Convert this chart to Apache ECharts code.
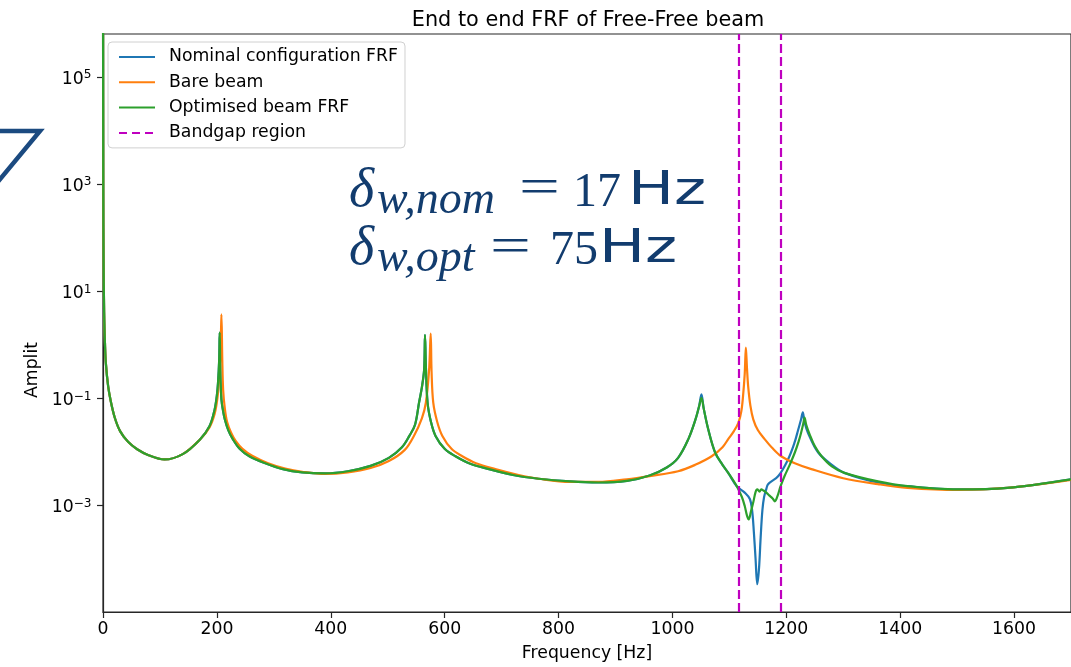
<!DOCTYPE html>
<html><head><meta charset="utf-8">
<script src="https://cdn.jsdelivr.net/npm/echarts@6/dist/echarts.min.js"></script>
<style>html,body{margin:0;padding:0;background:#fff}#c{width:1071px;height:667px}</style>
</head><body><div id="c"></div>
<script>
// ---- data (frequency [Hz], amplitude) ----
const seriesNames = ['Nominal configuration FRF', 'Bare beam', 'Optimised beam FRF', 'Bandgap region'];
const nominalFRF = [[0,1e7],[0.5,794],[1,39.8],[2,3.98],[3.5,1.0],[5,0.447],[9,0.166],[14,0.0832],[21,0.0417],[30,0.0240],[44,0.0151],[60,0.0110],[80,0.00851],[108,0.00708],[140,0.00891],[170,0.0166],[187,0.0295],[196,0.0603],[200,0.112],[202,0.191],[204,0.501],[205,1.66],[206,0.316],[208,0.0933],[211,0.0562],[214,0.0398],[220,0.0251],[228,0.0170],[240,0.0112],[257,0.00813],[285,0.00603],[316,0.00468],[350,0.00407],[390,0.00389],[430,0.00427],[470,0.00537],[502,0.00759],[525,0.0120],[538,0.0195],[548,0.0316],[555,0.0813],[560,0.158],[564,0.339],[565.5,1.51],[567,0.398],[570,0.0813],[576,0.0355],[584,0.0195],[600,0.0112],[619,0.00813],[645,0.00589],[678,0.00468],[720,0.00363],[765,0.00309],[820,0.00275],[870,0.00263],[920,0.00282],[960,0.00355],[990,0.00501],[1010,0.00759],[1028,0.0170],[1040,0.0380],[1047,0.0708],[1051,0.117],[1055,0.0631],[1063,0.0257],[1075,0.00955],[1088,0.00562],[1098,0.00398],[1113,0.00224],[1127,0.00170],[1136,0.00129],[1140,0.000794],[1143,0.000316],[1146,0.0001],[1149,0.0000331],[1152,0.0000631],[1155,0.000251],[1158,0.000794],[1161,0.00141],[1165,0.00200],[1168,0.00245],[1186,0.00347],[1203,0.00708],[1214,0.0141],[1221,0.0257],[1226,0.0398],[1229,0.0537],[1232,0.0355],[1238,0.0224],[1256,0.00955],[1280,0.00562],[1302,0.00398],[1361,0.00263],[1413,0.00224],[1501,0.00195],[1588,0.00209],[1700,0.00302]];
const bareFRF = [[0,1e7],[0.5,794],[1,39.8],[2,3.98],[3.5,1.0],[5,0.447],[9,0.166],[14,0.0832],[21,0.0417],[30,0.0240],[44,0.0151],[60,0.0110],[80,0.00851],[108,0.00708],[140,0.00891],[170,0.0166],[187,0.0282],[196,0.0501],[201,0.100],[204,0.251],[206.5,0.794],[208,3.63],[209.5,0.501],[211,0.141],[214,0.0631],[218,0.0355],[225,0.0224],[233,0.0158],[245,0.0112],[262,0.00832],[290,0.00603],[320,0.00479],[350,0.00417],[390,0.00380],[430,0.00407],[470,0.00490],[502,0.00661],[530,0.0107],[546,0.0195],[560,0.0417],[567,0.0813],[572.7,0.339],[575.5,1.585],[577,0.316],[580,0.0813],[587,0.0355],[596,0.0195],[612,0.0112],[631,0.00813],[655,0.00603],[689,0.00468],[730,0.00363],[765,0.00309],[820,0.00269],[870,0.00269],[920,0.00302],[960,0.00347],[1010,0.00427],[1040,0.00562],[1069,0.00813],[1088,0.0120],[1098,0.0170],[1108,0.0240],[1116,0.0347],[1121,0.0562],[1124,0.107],[1127,0.282],[1129,0.871],[1131,0.355],[1133,0.166],[1137,0.0708],[1142,0.0398],[1150,0.0251],[1162,0.0170],[1175,0.0117],[1191,0.00813],[1215,0.00603],[1244,0.00468],[1300,0.00316],[1361,0.00245],[1413,0.00209],[1501,0.00191],[1588,0.00209],[1700,0.00295]];
const optimisedFRF = [[0,1e7],[0.5,794],[1,39.8],[2,3.98],[3.5,1.0],[5,0.447],[9,0.166],[14,0.0832],[21,0.0417],[30,0.0240],[44,0.0151],[60,0.0110],[80,0.00851],[108,0.00708],[140,0.00891],[170,0.0166],[187,0.0295],[196,0.0603],[200,0.112],[202,0.191],[204,0.501],[205,1.66],[206,0.316],[208,0.0933],[211,0.0562],[214,0.0398],[220,0.0251],[228,0.0170],[240,0.0112],[257,0.00813],[285,0.00603],[316,0.00468],[350,0.00407],[390,0.00389],[430,0.00427],[470,0.00537],[502,0.00759],[525,0.0120],[538,0.0195],[548,0.0316],[555,0.0813],[560,0.158],[564,0.339],[565.5,1.51],[567,0.398],[570,0.0813],[576,0.0355],[584,0.0195],[600,0.0112],[619,0.00813],[645,0.00589],[678,0.00468],[720,0.00363],[765,0.00309],[820,0.00275],[870,0.00263],[920,0.00282],[960,0.00355],[990,0.00501],[1010,0.00759],[1028,0.0170],[1040,0.0380],[1047,0.0708],[1051,0.100],[1055,0.0631],[1063,0.0257],[1075,0.00955],[1088,0.00562],[1098,0.00398],[1113,0.00224],[1122,0.00141],[1127,0.000955],[1131,0.000631],[1134,0.000537],[1138,0.000759],[1142,0.00112],[1146,0.00174],[1149,0.00195],[1153,0.00178],[1156,0.00195],[1160,0.00186],[1165,0.00170],[1170,0.00151],[1176,0.00132],[1180,0.00117],[1184,0.00141],[1190,0.00224],[1197,0.00347],[1206,0.00562],[1215,0.00955],[1222,0.0158],[1226,0.0224],[1230,0.0339],[1232,0.0427],[1235,0.0316],[1241,0.0209],[1250,0.0126],[1262,0.00813],[1280,0.00525],[1302,0.00398],[1361,0.00275],[1413,0.00224],[1501,0.00195],[1588,0.00209],[1700,0.00302]];
const bandgapEdges = [1116, 1189.5];
const xTickValues = [0, 200, 400, 600, 800, 1000, 1200, 1400, 1600];
const yTickExponents = [-3, -1, 1, 3, 5];
const yTickSup = ['\u22123', '\u22121', '1', '3', '5'];
const annotationSubs = ['w,nom', 'w,opt'];
const annotationValues = ['17', '75'];

// ---- build ----
const toLog = pts => pts.map(p => [p[0], Math.log10(p[1])]);
const colors = ['#1f77b4', '#ff7f0e', '#2ca02c', '#bf00bf'];
const FONT = 'DejaVu Sans';
const FS = 17.3;
const ANN = '#123c6e';
const AXC = '#262626';

const chart = echarts.init(document.getElementById('c'), null, {renderer: 'canvas'});

const annGraphics = [];
const annLayout = [
  {base: 207, sub: 213, eqX: 519, eqY: 190, numX: 573, hzX: 628},
  {base: 265, sub: 271, eqX: 490, eqY: 249, numX: 550, hzX: 599}
];
annLayout.forEach((L, i) => {
  annGraphics.push({type: 'text', x: 349, y: L.base - 15, style: {text: '\u03B4', fill: ANN, font: 'italic 54px "Liberation Serif"', verticalAlign: 'middle'}});
  annGraphics.push({type: 'text', x: 377, y: L.sub - 12.5, style: {text: annotationSubs[i], fill: ANN, font: 'italic 46px "Liberation Serif"', verticalAlign: 'middle'}});
  annGraphics.push({type: 'text', x: L.eqX, y: L.eqY, scaleX: 1.45, style: {text: '=', fill: ANN, font: '50px "Liberation Serif"', verticalAlign: 'middle'}});
  annGraphics.push({type: 'text', x: L.numX, y: L.base - 13.5, style: {text: annotationValues[i], fill: ANN, font: '48px "Liberation Serif"', verticalAlign: 'middle'}});
  annGraphics.push({type: 'text', x: L.hzX, y: L.base - 15, scaleX: 1.33, style: {text: 'Hz', fill: ANN, font: '46px "DejaVu Sans"', verticalAlign: 'middle'}});
});

const lineSeries = [nominalFRF, bareFRF, optimisedFRF].map((d, i) => ({
  name: seriesNames[i], type: 'line', data: toLog(d), showSymbol: false, symbol: 'none',
  smooth: 0.35,
  lineStyle: {color: colors[i], width: 2.2}, itemStyle: {color: colors[i]},
  animation: false, clip: true, z: 2 + i
}));
lineSeries.push({
  name: seriesNames[3], type: 'line', data: [], symbol: 'none',
  lineStyle: {color: colors[3], width: 2.2, type: [8, 5]}, itemStyle: {color: colors[3]},
  animation: false, z: 10,
  markLine: {silent: true, symbol: ['none', 'none'], label: {show: false}, animation: false,
    lineStyle: {color: colors[3], width: 2.2, type: [9, 4]},
    data: bandgapEdges.map(v => ({xAxis: v}))}
});

chart.setOption({
  backgroundColor: '#ffffff',
  animation: false,
  title: {text: 'End to end FRF of Free-Free beam', left: 583, top: 5, textAlign: 'center',
    textStyle: {fontFamily: FONT, fontSize: 20.8, fontWeight: 'normal', color: '#000'}},
  grid: {left: 103, top: 34, width: 971, height: 579, show: true, borderColor: AXC, borderWidth: 1.2, backgroundColor: 'transparent'},
  legend: {
    data: seriesNames, orient: 'vertical', left: 108, top: 42,
    itemWidth: 36, itemHeight: 14, itemGap: 5.3, padding: [5, 7, 5, 10],
    itemStyle: {opacity: 0},
    backgroundColor: 'rgba(255,255,255,0.8)', borderColor: '#d0d0d0', borderWidth: 1, borderRadius: 4,
    textStyle: {fontFamily: FONT, fontSize: FS, color: '#000', padding: [0, 0, 0, 9], lineHeight: 20}
  },
  xAxis: {
    type: 'value', min: 0, max: 1700,
    name: 'Frequency [Hz]', nameLocation: 'middle', nameGap: 33,
    nameTextStyle: {fontFamily: FONT, fontSize: FS, color: '#000'},
    axisLine: {onZero: false, lineStyle: {color: AXC, width: 1.2}},
    axisTick: {customValues: xTickValues, length: 6, lineStyle: {color: AXC, width: 1.2}},
    axisLabel: {customValues: xTickValues, margin: 9, fontFamily: FONT, fontSize: FS, color: '#000',
      formatter: v => String(v)},
    splitLine: {show: false}
  },
  yAxis: {
    type: 'value', min: -5, max: 5.8,
    axisLine: {onZero: false, lineStyle: {color: AXC, width: 1.2}},
    axisTick: {customValues: yTickExponents, length: 6, lineStyle: {color: AXC, width: 1.2}},
    axisLabel: {customValues: yTickExponents, margin: 11.5, padding: [5, 0, 0, 0],
      formatter: v => { const k = yTickExponents.indexOf(Math.round(v)); return k >= 0 ? '{b|10}{s|' + yTickSup[k] + '}' : ''; },
      rich: {
        b: {fontFamily: FONT, fontSize: FS, color: '#000', lineHeight: 20},
        s: {fontFamily: FONT, fontSize: 12.1, color: '#000', lineHeight: 12, verticalAlign: 'top'}
      }},
    splitLine: {show: false}
  },
  graphic: [
    {type: 'polyline', shape: {points: [[-4, 131], [40, 131], [-4, 184]]}, style: {stroke: '#1b4a80', lineWidth: 4.5, fill: null}, z: 1},
    {type: 'text', x: 33, y: 370, rotation: Math.PI / 2, style: {text: 'Amplit', fill: '#000', font: FS + 'px "DejaVu Sans"', align: 'center', verticalAlign: 'middle'}},
    ...annGraphics
  ],
  series: lineSeries
});
</script></body></html>
